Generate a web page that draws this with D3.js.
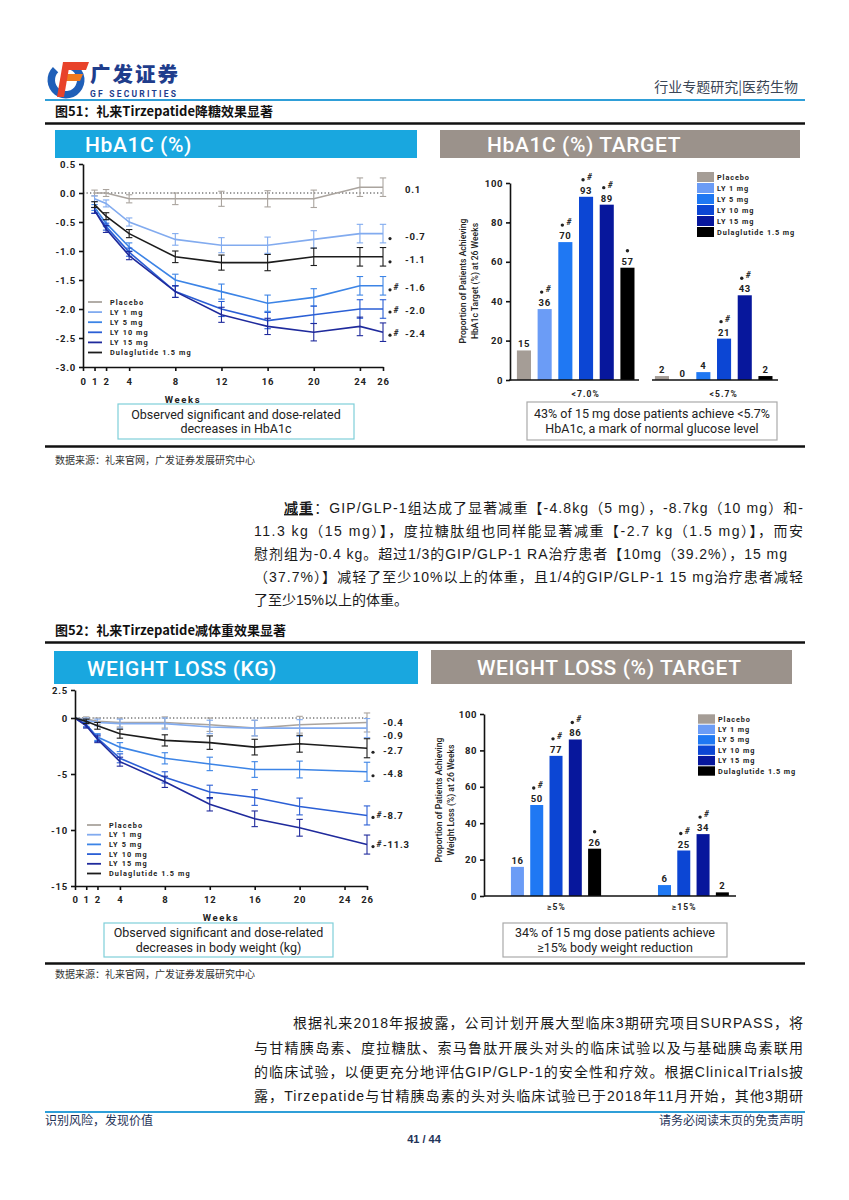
<!DOCTYPE html>
<html><head><meta charset="utf-8">
<script src="https://cdn.jsdelivr.net/npm/d3@7/dist/d3.min.js"></script>
<style>
html,body{margin:0;padding:0;background:#fff;}
svg{display:block;}
</style></head><body>
<svg id="page" width="849" height="1200"></svg>
<script>
// ---------------- DATA ----------------
const series = ["Placebo","LY 1 mg","LY 5 mg","LY 10 mg","LY 15 mg","Dulaglutide 1.5 mg"];
const weekTicks = [0,1,2,4,8,12,16,20,24,26];

// HbA1c change (%) over weeks
const hbaWeeks   = [1,2,4,8,12,16,20,24,26];
const hbaPlacebo = [0,0,-0.1,-0.1,-0.1,-0.1,-0.1,0.1,0.1];
const hbaLY1     = [-0.1,-0.18,-0.5,-0.8,-0.9,-0.9,-0.8,-0.7,-0.7];
const hbaLY5     = [-0.25,-0.52,-0.93,-1.5,-1.7,-1.9,-1.8,-1.6,-1.6];
const hbaLY10    = [-0.3,-0.58,-1.02,-1.7,-2.0,-2.2,-2.1,-2.0,-2.0];
const hbaLY15    = [-0.3,-0.62,-1.08,-1.7,-2.1,-2.3,-2.4,-2.3,-2.4];
const hbaDula    = [-0.2,-0.4,-0.7,-1.1,-1.2,-1.2,-1.1,-1.1,-1.1];
const hbaErr     = [0.05,0.06,0.07,0.1,0.13,0.14,0.15,0.16,0.16];
const hbaEndLabels = ["0.1","-0.7","-1.6","-2.0","-2.4","-1.1"];
const hbaEndMarks  = ["","*","*#","*#","*#","*"];
const hbaYTicks = [0.5,0,-0.5,-1,-1.5,-2,-2.5,-3];
const hbaYTickLabels = ["0.5","0.0","-0.5","-1.0","-1.5","-2.0","-2.5","-3.0"];

// Weight change (kg) over weeks
const wtWeeks   = [0,1,2,4,8,12,16,20,26];
const wtPlacebo = [0,-0.1,-0.3,-0.4,-0.4,-0.6,-0.9,-0.6,-0.4];
const wtLY1     = [0,-0.2,-0.4,-0.5,-0.5,-0.8,-0.9,-0.9,-0.9];
const wtLY5     = [0,-0.6,-1.7,-2.6,-3.6,-4.1,-4.6,-4.6,-4.8];
const wtLY10    = [0,-0.6,-1.8,-3.6,-5.3,-6.6,-7.1,-7.9,-8.7];
const wtLY15    = [0,-0.7,-1.9,-3.9,-5.7,-7.7,-9.0,-9.8,-11.3];
const wtDula    = [0,-0.3,-0.7,-1.4,-2.0,-2.2,-2.6,-2.3,-2.7];
const wtErr     = [0,0.2,0.3,0.4,0.5,0.6,0.7,0.75,0.85];
const wtEndLabels = ["-0.4","-0.9","-4.8","-8.7","-11.3","-2.7"];
const wtEndMarks  = ["","","*","*#","*#","*"];
const wtYTicks = [2.5,0,-5,-10,-15];
const wtYTickLabels = ["2.5","0","-5","-10","-15"];

// HbA1c target bar chart (% of patients)
const hbaTargetCats = ["<7.0%","<5.7%"];
const hbaTarget70 = [15,36,70,93,89,57];
const hbaTarget57 = [2,0,4,21,43,2];
const hbaTargetMarks70 = ["","*#","*#","*#","*#","*"];
const hbaTargetMarks57 = ["","","","*#","*#",""];

// Weight loss target bar chart (% of patients)
const wtTargetCats = ["\u22655%","\u226515%"];
const wtTarget5  = [null,16,50,77,86,26];
const wtTarget15 = [null,null,6,25,34,2];
const wtTargetMarks5  = ["","","*#","*#","*#","*"];
const wtTargetMarks15 = ["","","","*#","*#",""];

const barTicks = [0,20,40,60,80,100];

// ---------------- STYLE ----------------
const barColors  = ["#a59d96","#6b9cf6","#1f78f3","#0c46d4","#07179c","#000000"];
const lineColors = ["#aaa49e","#82abef","#3c84e6","#2b5fd5","#1f2a9c","#1c1c1c"];
const lab = "Roboto, 'DejaVu Sans', sans-serif";
const cjk = "'Liberation Sans', 'Noto Sans CJK SC', sans-serif";

const svg = d3.select("#page");

// ---------------- HEADER ----------------
(function header(){
  const g = svg.append("g");
  const arc = d3.arc().innerRadius(11).outerRadius(18.5).startAngle(Math.PI*0.12).endAngle(Math.PI*1.75);
  g.append("path").attr("d", arc()).attr("transform","translate(66,80)").attr("fill","#1f5fb8");
  g.append("path").attr("d","M66,62 L89,62 L86,70 L63,70 Z").attr("fill","#e8432a");
  g.append("path").attr("d","M63,74 L83,74 L80,81 L60,81 Z").attr("fill","#f07a1f");
  g.append("path").attr("d","M63,62 L70,62 L64,97 L57,97 Z").attr("fill","#e8432a");
  g.append("text").attr("x",90).attr("y",82).text("广发证券").attr("textLength",88)
    .style("font-family","'Noto Sans CJK SC'").style("font-weight","900").style("font-size","20.5px").attr("fill","#1f3d8c");
  g.append("text").attr("x",90).attr("y",97).text("GF SECURITIES").attr("textLength",86)
    .style("font-family",lab).style("font-weight","700").style("font-size","8.5px").attr("fill","#1f3d8c");
  g.append("text").attr("x",798).attr("y",92).attr("text-anchor","end").text("行业专题研究|医药生物")
    .style("font-family","'Noto Sans CJK SC'").style("font-size","14px").attr("fill","#3b4656");
  g.append("line").attr("x1",45).attr("x2",805).attr("y1",100).attr("y2",100).attr("stroke","#2f9fd8").attr("stroke-width",2);
})();

function figTitle(y, txt){
  svg.append("text").attr("x",55).attr("y",y).text(txt)
    .style("font-family","'Noto Sans CJK SC'").style("font-weight","700").style("font-size","13px").attr("fill","#111");
}
function hRule(y, w){
  svg.append("line").attr("x1",45).attr("x2",805).attr("y1",y).attr("y2",y).attr("stroke","#111").attr("stroke-width",w);
}
function source(y){
  svg.append("text").attr("x",55).attr("y",y).text("数据来源：礼来官网，广发证券发展研究中心")
    .style("font-family","'Noto Sans CJK SC'").style("font-size","10px").attr("fill","#333");
}
function banner(x,y,w,h,fill,txt,tx,fs){
  svg.append("rect").attr("x",x).attr("y",y).attr("width",w).attr("height",h).attr("fill",fill);
  svg.append("text").attr("x",tx).attr("y",y+h/2+1).attr("dominant-baseline","central").text(txt)
    .style("font-family",lab).style("font-weight","500").style("font-size",fs+"px").style("letter-spacing","0.6px").attr("fill","#fff");
}
function noteBox(x,y,w,h,stroke,lines){
  svg.append("rect").attr("x",x).attr("y",y).attr("width",w).attr("height",h).attr("fill","#fff").attr("stroke",stroke).attr("stroke-width",1.2);
  lines.forEach((t,i)=>{
    svg.append("text").attr("x",x+w/2).attr("y",y+h/2+(i-0.5)*14.5).attr("dominant-baseline","central").attr("text-anchor","middle").text(t)
      .style("font-family",lab).style("font-size","12.5px").attr("fill","#222");
  });
}
function sigMark(g, cx, cy, m){
  if(!m) return;
  if(m==="*"){
    g.append("circle").attr("cx",cx).attr("cy",cy+2).attr("r",1.7).attr("fill","#222");
  } else {
    g.append("circle").attr("cx",cx-3).attr("cy",cy+2).attr("r",1.7).attr("fill","#222");
    g.append("text").attr("x",cx+3.5).attr("y",cy-1).attr("text-anchor","middle").attr("dominant-baseline","central").text("#")
      .style("font-family",lab).style("font-weight","700").style("font-style","italic").style("font-size","8.5px").attr("fill","#222");
  }
}

// ---------------- LINE CHART ----------------
function lineChart(o){
  const g = svg.append("g");
  const x = d3.scaleLinear().domain([0,26]).range(o.xr);
  const y = d3.scaleLinear().domain(o.yd).range(o.yr);
  g.append("line").attr("x1",x(0)).attr("x2",x(26)).attr("y1",y(0)).attr("y2",y(0))
    .attr("stroke","#333").attr("stroke-width",1).attr("stroke-dasharray","1.3,2.2");
  const line = d3.line().x(d=>x(d.w)).y(d=>y(d.v));
  o.data.forEach((vals,si)=>{
    const pts = vals.map((v,i)=>({w:o.weeks[i], v, e:o.err[i]}));
    const c = lineColors[si];
    g.append("path").attr("d",line(pts)).attr("fill","none").attr("stroke",c).attr("stroke-width",1.6);
    pts.forEach(p=>{
      if(!p.e) return;
      g.append("line").attr("x1",x(p.w)).attr("x2",x(p.w)).attr("y1",y(p.v-p.e)).attr("y2",y(p.v+p.e)).attr("stroke",c).attr("stroke-width",1.1);
      [p.v-p.e,p.v+p.e].forEach(t=>g.append("line").attr("x1",x(p.w)-3.2).attr("x2",x(p.w)+3.2).attr("y1",y(t)).attr("y2",y(t)).attr("stroke",c).attr("stroke-width",1.1));
    });
    const last = vals[vals.length-1];
    const ly = y(last) + (o.nudge[si]||0);
    g.append("text").attr("x",o.labX).attr("y",ly).attr("dominant-baseline","central").text(o.endLabels[si])
      .style("font-family",lab).style("font-weight","700").style("font-size","9.5px").style("letter-spacing","0.8px").attr("fill","#222");
    const m = o.endMarks[si];
    if(m.includes("*")) g.append("circle").attr("cx",o.markX).attr("cy",ly+2).attr("r",1.6).attr("fill","#222");
    if(m.includes("#")) g.append("text").attr("x",o.markX+3.5).attr("y",ly-0.5).attr("dominant-baseline","central").text("#")
      .style("font-family",lab).style("font-weight","700").style("font-style","italic").style("font-size","8.5px").attr("fill","#222");
  });
  const ya = g.append("g").attr("transform",`translate(${x(0)},0)`)
    .call(d3.axisLeft(y).tickValues(o.yTicks).tickFormat((d,i)=>o.yTickLabels[i]).tickSize(4).tickSizeOuter(0).tickPadding(3));
  const xa = g.append("g").attr("transform",`translate(0,${y(o.yd[0])})`)
    .call(d3.axisBottom(x).tickValues(weekTicks).tickSize(4).tickSizeOuter(0).tickPadding(o.xPad));
  [ya,xa].forEach(a=>{
    a.select(".domain").attr("stroke","#111").attr("stroke-width",1.6);
    a.selectAll(".tick line").attr("stroke","#111").attr("stroke-width",1.6);
    a.selectAll(".tick text").style("font-family",lab).style("font-weight","700").style("font-size","9.5px").style("letter-spacing","0.8px").attr("fill","#222");
  });
  g.append("text").attr("x",o.weeksX).attr("y",o.weeksY).attr("text-anchor","middle").attr("dominant-baseline","central").text("Weeks")
    .style("font-family",lab).style("font-weight","700").style("font-size","9.5px").style("letter-spacing","1.6px").attr("fill","#222");
  series.forEach((s,i)=>{
    const ly = o.legY + i*o.legStep;
    g.append("line").attr("x1",o.legX).attr("x2",o.legX+14).attr("y1",ly).attr("y2",ly).attr("stroke",lineColors[i]).attr("stroke-width",1.8);
    g.append("text").attr("x",o.legX+22).attr("y",ly).attr("dominant-baseline","central").text(s)
      .style("font-family",lab).style("font-weight","700").style("font-size","7.3px").style("letter-spacing","1.1px").attr("fill","#222");
  });
}

// ---------------- BAR CHART ----------------
function barChart(o){
  const g = svg.append("g");
  const y = d3.scaleLinear().domain([0,100]).range(o.yr);
  const x0 = d3.scaleBand().domain(o.cats).range(o.xr).paddingInner(o.groupPad).paddingOuter(0);
  const x1 = d3.scaleBand().domain(series).range([0,x0.bandwidth()]).paddingInner(o.barPad).paddingOuter(o.barPad/2);
  o.groups.forEach((vals,gi)=>{
    const gx = x0(o.cats[gi]);
    vals.forEach((v,si)=>{
      if(v===null) return;
      const bx = gx + x1(series[si]);
      g.append("rect").attr("x",bx).attr("y",y(v)).attr("width",x1.bandwidth()).attr("height",y(0)-y(v)).attr("fill",barColors[si]);
      g.append("text").attr("x",bx+x1.bandwidth()/2).attr("y",y(v)-3).attr("text-anchor","middle").text(v)
        .style("font-family",lab).style("font-weight","700").style("font-size","9.5px").style("letter-spacing","0.6px").attr("fill","#222");
      sigMark(g, bx+x1.bandwidth()/2, y(v)-19, o.marks[gi][si]);
    });
    g.append("text").attr("x",gx+x0.bandwidth()/2+o.catShift).attr("y",o.catY).attr("text-anchor","middle").attr("dominant-baseline","central").text(o.cats[gi])
      .style("font-family",lab).style("font-weight","700").style("font-size","8.5px").style("letter-spacing","1.1px").attr("fill","#222");
  });
  o.baselines.forEach(b=>{
    g.append("line").attr("x1",b[0]).attr("x2",b[1]).attr("y1",y(0)).attr("y2",y(0)).attr("stroke","#111").attr("stroke-width",1.6);
  });
  const ya = g.append("g").attr("transform",`translate(${o.axisX},0)`)
    .call(d3.axisLeft(y).tickValues(barTicks).tickSize(4).tickSizeOuter(0).tickPadding(3));
  ya.select(".domain").attr("stroke","#111").attr("stroke-width",1.6);
  ya.selectAll(".tick line").attr("stroke","#111").attr("stroke-width",1.6);
  ya.selectAll(".tick text").style("font-family",lab).style("font-weight","700").style("font-size","9.5px").style("letter-spacing","0.6px").attr("fill","#222");
  const yl = g.append("text").attr("transform",`translate(${o.yLabX},${o.yLabY}) rotate(-90)`).attr("text-anchor","middle")
    .style("font-family",lab).style("font-weight","500").style("font-size","8.6px").attr("fill","#222");
  yl.append("tspan").attr("x",0).attr("dy",0).text(o.yLab[0]);
  yl.append("tspan").attr("x",0).attr("dy",11.5).text(o.yLab[1]);
  series.forEach((s,i)=>{
    const ly = o.legY + i*o.legStep;
    g.append("rect").attr("x",o.legX).attr("y",ly-o.legStep/2+0.5).attr("width",17).attr("height",o.legStep-1).attr("fill",barColors[i]);
    g.append("text").attr("x",o.legX+20).attr("y",ly).attr("dominant-baseline","central").text(s)
      .style("font-family",lab).style("font-weight","700").style("font-size","7.3px").style("letter-spacing","0.9px").attr("fill","#222");
  });
}

// ---------------- FIGURE 51 ----------------
figTitle(116, "图51：礼来Tirzepatide降糖效果显著");
hRule(123.5, 2.5);
banner(55,130,362,28,"#19a7df","HbA1C (%)",85,21);
banner(440,130,360,28,"#9b928b","HbA1C (%) TARGET",487,21);

lineChart({
  xr:[83,383], yd:[-3,0.5], yr:[367,164],
  weeks:hbaWeeks, err:hbaErr,
  data:[hbaPlacebo,hbaLY1,hbaLY5,hbaLY10,hbaLY15,hbaDula],
  endLabels:hbaEndLabels, endMarks:hbaEndMarks, nudge:[2,3,2,1,1,3],
  labX:405, markX:390,
  yTicks:hbaYTicks, yTickLabels:hbaYTickLabels, xPad:7,
  weeksX:183, weeksY:399,
  legX:88, legY:302, legStep:10.1
});
noteBox(118,404,236,35,"#7fcfd9",["Observed significant and dose-related","decreases in HbA1c"]);

barChart({
  yr:[380,183], xr:[513.6,775.8], groupPad:0.1, barPad:0.32,
  cats:hbaTargetCats, groups:[hbaTarget70,hbaTarget57], marks:[hbaTargetMarks70,hbaTargetMarks57],
  catShift:10, catY:394,
  baselines:[[509,639],[652,778]], axisX:510,
  yLabX:466, yLabY:281, yLab:["Proportion of Patients Achieving","HbA1c Target (%) at 26 Weeks"],
  legX:697, legY:177, legStep:11
});
noteBox(527,402,250,38,"#aaa",["43% of 15 mg dose patients achieve <5.7%","HbA1c, a mark of normal glucose level"]);

hRule(446.5, 2.5);
source(464);

// ---------------- PARAGRAPH 1 ----------------
function para(lines){
  lines.forEach(l=>{
    const t = svg.append("text").attr("x",l.x).attr("y",l.y)
      .style("font-family",cjk).style("font-size","14px").attr("fill","#1a1a1a");
    if(l.w) t.attr("textLength",l.w).attr("lengthAdjust","spacing");
    l.parts.forEach(p=>{
      const s = t.append("tspan").text(p.t);
      if(p.b) s.style("font-weight","700").style("text-decoration","underline");
    });
  });
}
para([
  {x:284,y:513,w:519,parts:[{t:"减重",b:true},{t:"：GIP/GLP-1组达成了显著减重【-4.8kg（5 mg），-8.7kg（10 mg）和-"}]},
  {x:254,y:536,w:549,parts:[{t:"11.3 kg（15 mg）】，度拉糖肽组也同样能显著减重【-2.7 kg（1.5 mg）】，而安"}]},
  {x:254,y:559,w:533,parts:[{t:"慰剂组为-0.4 kg。超过1/3的GIP/GLP-1 RA治疗患者【10mg（39.2%），15 mg"}]},
  {x:254,y:582,w:549,parts:[{t:"（37.7%）】减轻了至少10%以上的体重，且1/4的GIP/GLP-1 15 mg治疗患者减轻"}]},
  {x:254,y:605,parts:[{t:"了至少15%以上的体重。"}]}
]);

// ---------------- FIGURE 52 ----------------
figTitle(635, "图52：礼来Tirzepatide减体重效果显著");
hRule(642.5, 2.5);
banner(54,651,364,33,"#19a7df","WEIGHT LOSS (KG)",87,21);
banner(431,650,361,34,"#9b928b","WEIGHT LOSS (%) TARGET",477,21);

lineChart({
  xr:[75,367], yd:[-15,2.5], yr:[886,690],
  weeks:wtWeeks, err:wtErr,
  data:[wtPlacebo,wtLY1,wtLY5,wtLY10,wtLY15,wtDula],
  endLabels:wtEndLabels, endMarks:wtEndMarks, nudge:[0,7,2,0,0,2],
  labX:383, markX:373,
  yTicks:wtYTicks, yTickLabels:wtYTickLabels, xPad:6,
  weeksX:221, weeksY:917,
  legX:87, legY:825, legStep:9.7
});
noteBox(104,923,229,34,"#7fcfd9",["Observed significant and dose-related","decreases in body weight (kg)"]);

barChart({
  yr:[896,714], xr:[488.5,732], groupPad:0.094, barPad:0.326,
  cats:wtTargetCats, groups:[wtTarget5,wtTarget15], marks:[wtTargetMarks5,wtTargetMarks15],
  catShift:10, catY:907,
  baselines:[[484,736]], axisX:484,
  yLabX:442, yLabY:800, yLab:["Proportion of Patients Achieving","Weight Loss (%) at 26 Weeks"],
  legX:698, legY:719, legStep:10.4
});
noteBox(503,923,224,34,"#aaa",["34% of 15 mg dose patients achieve","\u226515% body weight reduction"]);

hRule(963.5, 2.5);
source(978);

// ---------------- PARAGRAPH 2 ----------------
para([
  {x:293,y:1028,w:510,parts:[{t:"根据礼来2018年报披露，公司计划开展大型临床3期研究项目SURPASS，将"}]},
  {x:254,y:1053,w:549,parts:[{t:"与甘精胰岛素、度拉糖肽、索马鲁肽开展头对头的临床试验以及与基础胰岛素联用"}]},
  {x:254,y:1077,w:549,parts:[{t:"的临床试验，以便更充分地评估GIP/GLP-1的安全性和疗效。根据ClinicalTrials披"}]},
  {x:254,y:1101,w:549,parts:[{t:"露，Tirzepatide与甘精胰岛素的头对头临床试验已于2018年11月开始，其他3期研"}]}
]);

// ---------------- FOOTER ----------------
svg.append("line").attr("x1",45).attr("x2",805).attr("y1",1112).attr("y2",1112).attr("stroke","#2f9fd8").attr("stroke-width",2);
svg.append("text").attr("x",45).attr("y",1125).text("识别风险，发现价值")
  .style("font-family","'Noto Sans CJK SC'").style("font-size","12px").attr("fill","#1f3358");
svg.append("text").attr("x",803).attr("y",1125).attr("text-anchor","end").text("请务必阅读末页的免责声明")
  .style("font-family","'Noto Sans CJK SC'").style("font-size","12px").attr("fill","#1f3358");
svg.append("text").attr("x",424).attr("y",1143).attr("text-anchor","middle").text("41 / 44")
  .style("font-family","'Liberation Sans'").style("font-weight","700").style("font-size","11px").attr("fill","#1f3358");
</script>
</body></html>
